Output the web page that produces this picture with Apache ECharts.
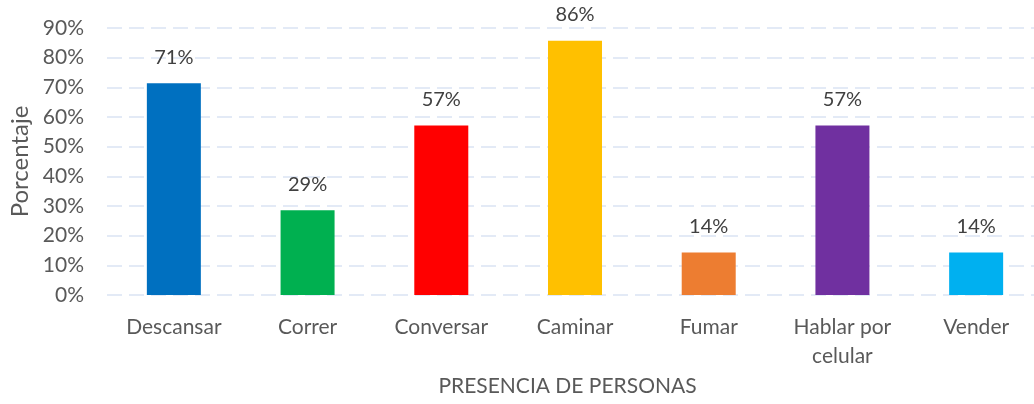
<!DOCTYPE html>
<html>
<head>
<meta charset="utf-8">
<script src="https://cdn.jsdelivr.net/npm/echarts@6/dist/echarts.min.js"></script>
<style>html,body{margin:0;padding:0;background:#fff}#c{width:1034px;height:404px}</style>
</head>
<body>
<div id="c"></div>
<script>
const categories = ['Descansar', 'Correr', 'Conversar', 'Caminar', 'Fumar', 'Hablar por\ncelular', 'Vender'];
const values = [71.4, 28.6, 57.1, 85.7, 14.3, 57.1, 14.3];
const colors = ['#0070C0', '#00B050', '#FF0000', '#FFC000', '#ED7D31', '#7030A0', '#00B0F0'];
const yTicks = [0, 10, 20, 30, 40, 50, 60, 70, 80, 90];

const font = 'Lato, "Open Sans", sans-serif';
const chart = echarts.init(document.getElementById('c'));
chart.setOption({
  animation: false,
  grid: { left: 107, top: 28, bottom: 109, width: 936, outerBoundsMode: 'none', containLabel: false },
  xAxis: {
    type: 'category',
    data: categories,
    name: 'PRESENCIA DE PERSONAS',
    nameLocation: 'middle',
    nameGap: 80,
    nameTextStyle: { color: '#595959', fontSize: 21, fontFamily: font, padding: [0, 0, 0, -15] },
    axisLine: { show: false },
    axisTick: { show: false },
    axisLabel: { color: '#595959', fontSize: 21, fontFamily: font, margin: 18, lineHeight: 29, interval: 0 }
  },
  yAxis: {
    type: 'value',
    min: yTicks[0],
    max: yTicks[yTicks.length - 1],
    interval: 10,
    name: 'Porcentaje',
    nameLocation: 'middle',
    nameGap: 74,
    nameRotate: 90,
    nameTextStyle: { color: '#595959', fontSize: 24, fontFamily: font },
    axisLine: { show: false },
    axisTick: { show: false },
    axisLabel: { color: '#595959', fontSize: 21, fontFamily: font, margin: 23, formatter: v => v + '%' },
    splitLine: { lineStyle: { color: '#DAE3F3', width: 1.5, type: [15, 7] } }
  },
  series: [{
    type: 'bar',
    barWidth: 54,
    data: values.map((v, i) => ({ value: v, itemStyle: { color: colors[i] } })),
    label: {
      show: true,
      position: 'top',
      distance: 16,
      color: '#404040',
      fontSize: 20,
      fontFamily: font,
      formatter: p => Math.round(p.value) + '%'
    }
  }]
});
</script>
</body>
</html>
